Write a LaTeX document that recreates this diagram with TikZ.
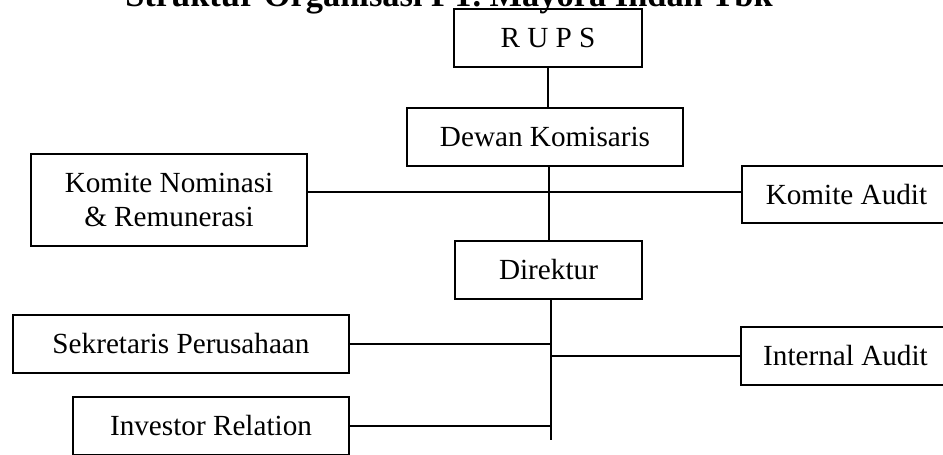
\documentclass[tikz,border=0pt]{standalone}
\usepackage{fontspec}
\setmainfont{Liberation Serif}
\tikzset{
  unit/.style={draw, line width=1pt, minimum height=29pt, inner sep=0pt,
    align=center, font=\fontsize{14.6}{17}\selectfont},
  link/.style={line width=1pt}
}
\begin{document}
\begin{tikzpicture}[x=0.5pt,y=-0.5pt]
  \useasboundingbox (0,0) rectangle (943,455);
  \clip (0,0) rectangle (943,455);
  % judul
  \node[anchor=base, font=\fontsize{17.2}{20}\selectfont\bfseries] (judul) at (449,6)
    {Struktur Organisasi PT. Mayora Indah Tbk};
  % kotak-kotak
  \node[unit, minimum width=94pt] (rups) at (548,38) {R U P S};
  \node[unit, minimum width=138pt] (dekom) at (545,137) {Dewan Komisaris};
  \node[unit, minimum width=138pt, minimum height=46pt] (knr) at (169,200) {Komite Nominasi\\\& Remunerasi};
  \node[unit, minimum width=104.5pt, minimum height=28.5pt] (ka) at (846.5,194.5) {Komite Audit};
  \node[unit, minimum width=93.5pt] (dir) at (548.5,270) {Direktur};
  \node[unit, minimum width=168pt] (sekper) at (181,344) {Sekretaris Perusahaan};
  \node[unit, minimum width=104.5pt] (ia) at (845.5,356) {Internal Audit};
  \node[unit, minimum width=138pt] (ir) at (211,426) {Investor Relation};
  % garis
  \coordinate (kom) at (549,192);
  \coordinate (spine) at (551,440);
  \draw[link] (rups.south) -- (dekom.north -| rups.south);
  \draw[link] (dekom.south -| kom) -- (dir.north -| kom);
  \draw[link] (knr.east |- kom) -- (ka.west |- kom);
  \draw[link] (dir.south -| spine) -- (spine);
  \draw[link] (sekper.east) -- (sekper.east -| spine);
  \draw[link] (ir.east) -- (ir.east -| spine);
  \draw[link] (ia.west) -- (ia.west -| spine);
\end{tikzpicture}
\end{document}
